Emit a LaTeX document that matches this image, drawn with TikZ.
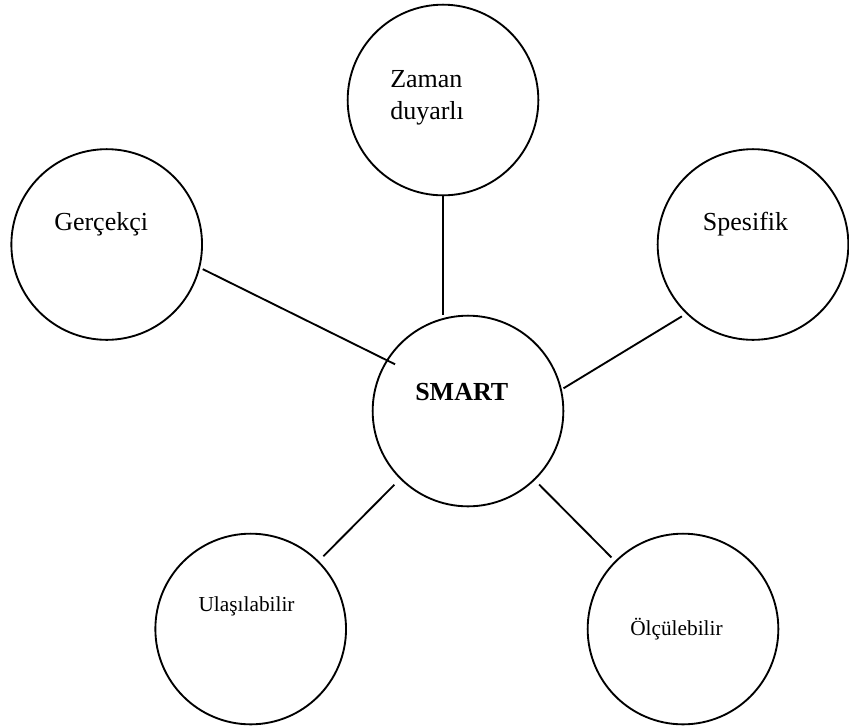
\documentclass[tikz,border=0pt]{standalone}
\usepackage{fontspec}
\setmainfont{Liberation Serif}
\begin{document}
\begin{tikzpicture}[x=0.75pt,y=-0.75pt,
  goal/.style={circle,draw,line width=1.4pt,minimum size=143pt,inner sep=0pt},
  tag/.style={anchor=base west,inner sep=0pt,font=\fontsize{19.5}{24}\selectfont},
  smalltag/.style={anchor=base west,inner sep=0pt,font=\fontsize{16}{19}\selectfont},
  link/.style={line width=1.4pt}]
\useasboundingbox (0,0) rectangle (849,726);

% circles
\node[goal] (zaman) at (443,100) {};
\node[goal] (ger)   at (106.7,244.5) {};
\node[goal] (spe)   at (753,244.5) {};
\node[goal] (smart) at (468,411) {};
\node[goal] (ulas)  at (250.7,629) {};
\node[goal] (olc)   at (683,629) {};

% labels (the two-line label sits on the baseline of its last line)
\node[tag,align=left] (zamant) at (390,119) {Zaman\\duyarlı};
\node[tag] (gert)   at (54,230.7) {Gerçekçi};
\node[tag] (spet)   at (702.7,230.7) {Spesifik};
\node[tag,font=\fontsize{19.5}{24}\selectfont\bfseries] (smartt) at (415,400) {SMART};
\node[smalltag] (ulast) at (198.3,611.7) {Ulaşılabilir};
\node[smalltag] (olct)  at (630,635) {Ölçülebilir};

% connectors
\draw[link] (zaman.south) -- (zaman.south |- smart.north);
\draw[link,shorten <=2.2pt,shorten >=-7.3pt] (ger.-14) -- (smart.148);
\draw[link,shorten <=3.7pt,shorten >=1.5pt] (spe.226) -- (smart.13);
\draw[link,shorten <=4.9pt,shorten >=6pt] (ulas.45) -- (smart.225);
\draw[link,shorten <=3.7pt,shorten >=4.5pt] (olc.135) -- (smart.-46);
\end{tikzpicture}
\end{document}
